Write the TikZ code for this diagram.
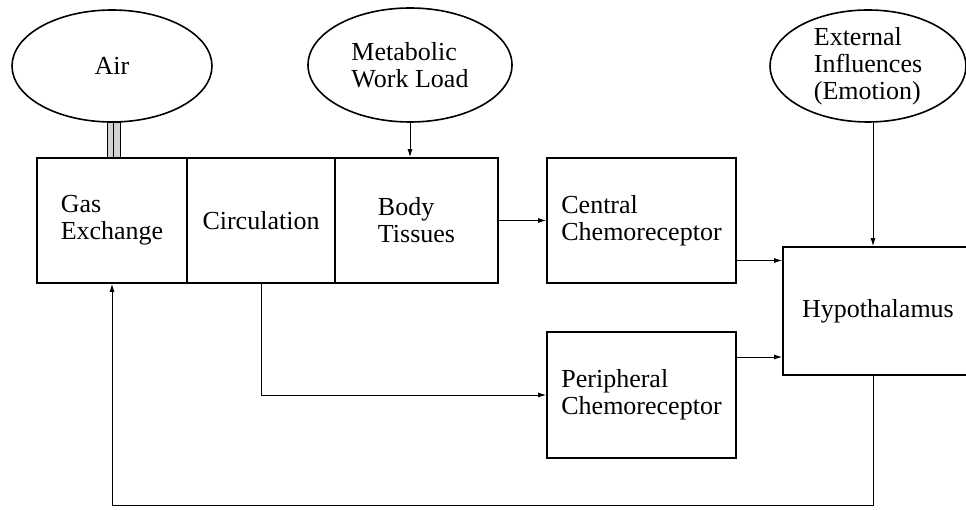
\documentclass[tikz,border=0pt]{standalone}
\usepackage{fontspec}
\setmainfont{Liberation Serif}
\usetikzlibrary{shapes.geometric,arrows.meta,calc}
\begin{document}
\begin{tikzpicture}[x=1pt,y=-1pt,
  every node/.style={font=\fontsize{26}{27}\selectfont, align=left, inner sep=0pt},
  blk/.style={draw, line width=1.8pt, rectangle},
  oval/.style={draw, line width=1.6pt, ellipse},
  conn/.style={line width=0.9pt, -{Latex[length=8pt,width=5pt]}},
  pipe/.style={draw, line width=0.8pt, fill=gray!35}]
\useasboundingbox (0,0) rectangle (966,510);
% ellipses
\node[oval, minimum width=200, minimum height=112] (air) at (112,66) {Air};
\node[oval, minimum width=204, minimum height=114] (meta) at (410,65) {Metabolic\\Work Load};
\node[oval, minimum width=196, minimum height=112] (ext) at (868,66) {External\\Influences\\(Emotion)};
% main blocks
\node[blk, minimum width=150, minimum height=125] (gas) at (112,220.5) {Gas\\Exchange};
\node[blk, minimum width=148, minimum height=125] (circ) at (261,220.5) {Circulation};
\node[blk, minimum width=163, minimum height=125] (body) at (416.5,220.5) {Body\\Tissues};
\node[blk, minimum width=189, minimum height=125] (central) at (641.5,220.5) {Central\\Chemoreceptor};
\node[blk, minimum width=189, minimum height=126] (peri) at (641.5,395) {Peripheral\\Chemoreceptor};
\node[blk, minimum width=190, minimum height=128] (hypo) at (878,311) {Hypothalamus};
% air pipe
\draw[pipe] ($(air.south)+(-5,0)$) rectangle ($(gas.north)+(1.5,0)$);
\draw[pipe] ($(air.south)+(1.5,0)$) rectangle ($(gas.north)+(8,0)$);
% connectors
\draw[conn] (meta.south) -- (meta.south |- body.north);
\draw[conn] (body.east) -- (central.west);
\draw[conn] ([yshift=-40pt]central.east) -- ([yshift=-40pt]central.east -| hypo.west);
\draw[conn] ([yshift=38pt]peri.east) -- ([yshift=38pt]peri.east -| hypo.west);
\coordinate (hin) at ($(hypo.north)+(-5,0)$);
\draw[conn] (ext.south -| hin) -- (hin);
\draw[conn] (circ.south) |- (peri.west);
\coordinate (hout) at ($(hypo.south)+(-5,0)$);
\coordinate (fb) at ($(hout)+(0,130)$);
\draw[conn] (hout) -- (fb) -- (fb -| gas.south) -- (gas.south);
\end{tikzpicture}
\end{document}
